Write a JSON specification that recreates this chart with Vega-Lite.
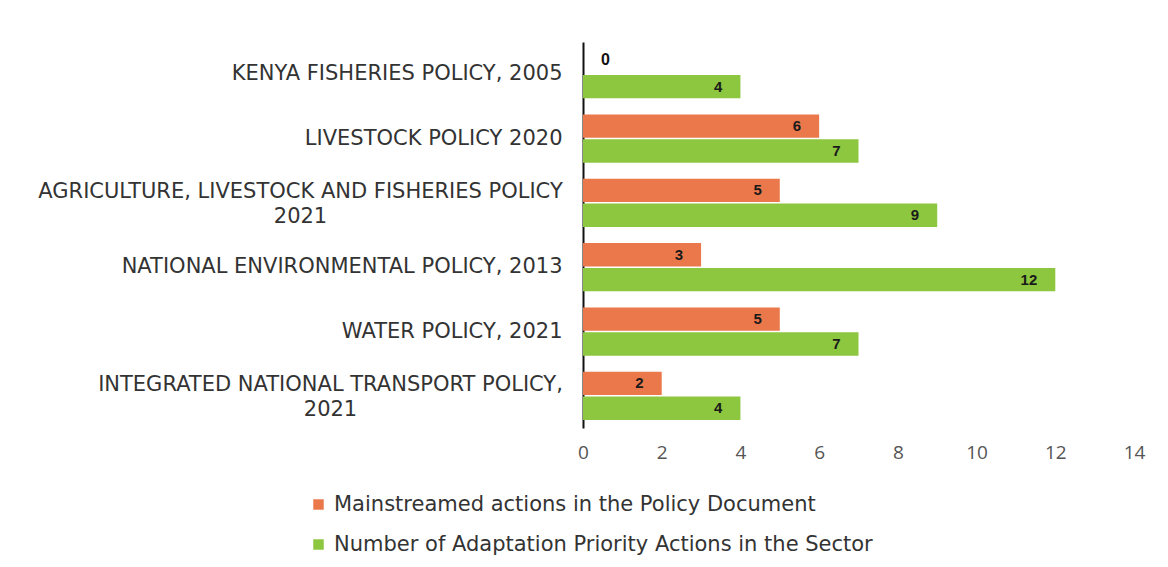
{
  "$schema": "https://vega.github.io/schema/vega-lite/v6.json",
  "autosize": "none",
  "width": 551,
  "height": 386,
  "padding": {"left": 583, "top": 42, "right": 34, "bottom": 139},
  "background": "white",
  "config": {"view": {"stroke": null}, "font": "DejaVu Sans"},
  "data": {"values": [
    {"policy": "KENYA FISHERIES POLICY, 2005", "series": "Mainstreamed actions in the Policy Document", "value": 0},
    {"policy": "KENYA FISHERIES POLICY, 2005", "series": "Number of Adaptation Priority Actions in the Sector", "value": 4},
    {"policy": "LIVESTOCK POLICY 2020", "series": "Mainstreamed actions in the Policy Document", "value": 6},
    {"policy": "LIVESTOCK POLICY 2020", "series": "Number of Adaptation Priority Actions in the Sector", "value": 7},
    {"policy": "AGRICULTURE, LIVESTOCK AND FISHERIES POLICY|2021", "series": "Mainstreamed actions in the Policy Document", "value": 5},
    {"policy": "AGRICULTURE, LIVESTOCK AND FISHERIES POLICY|2021", "series": "Number of Adaptation Priority Actions in the Sector", "value": 9},
    {"policy": "NATIONAL ENVIRONMENTAL POLICY, 2013", "series": "Mainstreamed actions in the Policy Document", "value": 3},
    {"policy": "NATIONAL ENVIRONMENTAL POLICY, 2013", "series": "Number of Adaptation Priority Actions in the Sector", "value": 12},
    {"policy": "WATER POLICY, 2021", "series": "Mainstreamed actions in the Policy Document", "value": 5},
    {"policy": "WATER POLICY, 2021", "series": "Number of Adaptation Priority Actions in the Sector", "value": 7},
    {"policy": "INTEGRATED NATIONAL TRANSPORT POLICY,|2021", "series": "Mainstreamed actions in the Policy Document", "value": 2},
    {"policy": "INTEGRATED NATIONAL TRANSPORT POLICY,|2021", "series": "Number of Adaptation Priority Actions in the Sector", "value": 4}
  ]},
  "encoding": {
    "y": {
      "field": "policy", "type": "nominal", "sort": null,
      "scale": {"paddingInner": 0.25, "paddingOuter": 0.125},
      "axis": {
        "title": null, "ticks": false, "domainColor": "#111", "domainWidth": 2,
        "labelFontSize": 21, "labelColor": "#333", "labelFont": "DejaVu Sans",
        "labelLimit": 700, "labelExpr": "split(datum.label, '|')", "labelLineHeight": 25,
        "labelAlign": {"condition": {"test": "indexof(datum.value, '|') >= 0", "value": "center"}, "value": "right"},
        "labelOffset": {"condition": {"test": "indexof(datum.value, '|') >= 0", "value": -11}, "value": 0},
        "labelPadding": {"condition": [
          {"test": "indexof(datum.value, 'AGRICULTURE') >= 0", "value": 283},
          {"test": "indexof(datum.value, 'INTEGRATED') >= 0", "value": 253}
        ], "value": 21}
      }
    },
    "yOffset": {"field": "series", "type": "nominal", "scale": {"paddingInner": 0.06}},
    "x": {
      "field": "value", "type": "quantitative",
      "scale": {"domain": [0, 14], "nice": false},
      "axis": {
        "title": null, "values": [0, 2, 4, 6, 8, 10, 12, 14], "domain": false, "ticks": false, "grid": false,
        "labelFlush": false, "labelFontSize": 19, "labelColor": "#555", "labelPadding": 15, "labelFont": "Open Sans"
      }
    }
  },
  "layer": [
    {
      "mark": {"type": "bar"},
      "encoding": {
        "color": {
          "field": "series", "type": "nominal",
          "scale": {"domain": ["Mainstreamed actions in the Policy Document", "Number of Adaptation Priority Actions in the Sector"], "range": ["#EB784B", "#8DC63F"]},
          "legend": {
            "orient": "none", "legendX": -275, "legendY": 452, "direction": "vertical", "title": null,
            "symbolType": "square", "symbolSize": 110, "symbolStrokeWidth": 0,
            "labelFontSize": 21, "labelColor": "#333", "labelFont": "DejaVu Sans", "labelLimit": 700,
            "rowPadding": 18, "labelOffset": 5
          }
        }
      }
    },
    {
      "transform": [{"filter": "datum.value > 0"}],
      "mark": {"type": "text", "align": "right", "dx": -18, "fontWeight": "bold", "fontSize": 15, "font": "Liberation Sans", "color": "#1a1a1a"},
      "encoding": {"text": {"field": "value", "type": "quantitative"}}
    },
    {
      "transform": [{"filter": "datum.value == 0"}],
      "mark": {"type": "text", "align": "left", "dx": 18, "dy": -2, "fontWeight": "bold", "fontSize": 16, "font": "Liberation Sans", "color": "#111"},
      "encoding": {"text": {"field": "value", "type": "quantitative"}}
    }
  ]
}
